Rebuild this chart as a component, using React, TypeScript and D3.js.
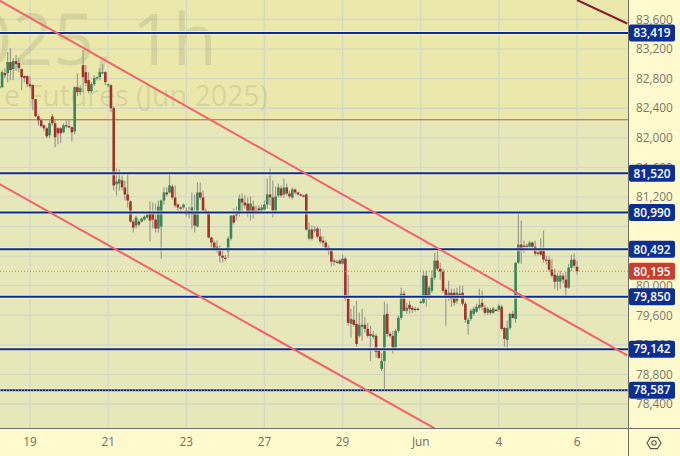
import React from "react";
import * as d3 from "d3";

const opens = [82671,82685,82875,82875,83024,82929,83037,83010,82929,82834,82834,82725,82712,82522,82291,82237,82169,82129,82034,82291,82196,82129,82129,82075,82169,82156,82142,82088,82685,82617,82983,82888,82780,82631,82725,82807,82820,82875,82888,82712,82712,82400,81370,81383,81424,81329,81234,81139,80867,80813,80867,80867,80894,80922,80976,80990,80894,80773,80800,81152,81261,81261,81342,81193,81098,81058,81058,81017,81003,80963,80990,80800,81261,81193,81017,80990,80651,80583,80528,80501,80406,80379,80460,80637,80949,80949,80976,81179,81125,81111,80990,81071,81017,81044,81017,81030,81098,81234,81193,81017,81220,81315,81234,81329,81247,81193,81301,81261,81234,81220,81234,80637,80759,80746,80773,80664,80610,80583,80515,80488,80339,80325,80339,80298,80366,79823,79484,79539,79484,79322,79444,79471,79417,79349,79308,79322,79132,78875,78983,79620,79349,79322,79159,79390,79566,79891,79661,79742,79701,79688,79688,79769,79769,80135,79837,79932,80108,80339,80230,80190,79946,79837,79905,79905,79796,79891,79905,79756,79484,79552,79620,79647,79701,79769,79701,79634,79674,79634,79674,79674,79715,79430,79267,79430,79620,79552,80312,80556,80542,80542,80528,80583,80528,80447,80501,80474,80352,80352,80217,80149,80054,80054,80135,80081,79973,80244,80352,80257];
const closes = [82698,82888,82847,83024,82915,83037,82997,82942,82820,82807,82725,82698,82522,82291,82237,82156,82129,82020,82196,82196,82007,82061,82061,82169,82156,82142,82075,82685,82617,82671,82820,82739,82631,82725,82807,82820,82888,82888,82753,82725,82400,81356,81410,81437,81329,81234,81152,80867,80786,80922,80827,80908,80935,80963,80881,80894,80773,81071,81152,81261,81234,81356,81193,81085,81058,81044,81098,80963,80963,81058,80813,81261,81193,81017,80990,80651,80583,80501,80488,80406,80379,80366,80637,80949,80854,80990,81179,81125,81085,80990,81111,80990,80990,81017,81058,81098,81234,81193,81017,81207,81329,81220,81329,81247,81207,81301,81261,81234,81220,81207,80759,80759,80637,80759,80664,80597,80583,80515,80474,80325,80325,80312,80298,80366,79823,79498,79552,79471,79213,79471,79471,79417,79322,79322,79335,79105,79024,78983,79607,79349,79322,79159,79390,79566,79891,79661,79701,79688,79674,79674,79674,79783,80135,79837,79973,80108,80339,80230,80190,79932,79837,79905,79823,79769,79905,79878,79756,79539,79539,79661,79688,79715,79742,79715,79634,79688,79634,79688,79661,79729,79417,79281,79430,79620,79566,80312,80556,80474,80528,80528,80583,80528,80434,80434,80420,80352,80339,80217,80135,80054,80135,80135,80081,79973,80244,80352,80271,80195];
const highs = [82712,82915,82942,83159,83214,83078,83119,83078,82942,82847,82847,82834,82725,82522,82319,82264,82183,82142,82237,82319,82237,82142,82142,82196,82237,82237,82156,82698,82875,82712,83186,82983,82888,82753,82847,82834,82942,82997,82902,82739,82725,82427,81586,81573,81491,81424,81532,81152,80894,80949,80894,80922,80949,80976,81139,81125,81111,81152,81166,81329,81329,81518,81370,81356,81111,81071,81111,81058,81071,81261,81234,81396,81396,81288,81044,81017,80664,80610,80610,80542,80474,80420,80664,80949,81044,81071,81234,81247,81220,81193,81207,81152,81085,81085,81098,81152,81451,81586,81424,81342,81383,81356,81451,81383,81288,81329,81315,81274,81247,81234,81247,80854,80813,80800,80800,80773,80664,80610,80542,80501,80366,80352,80366,80420,80393,80149,79688,79729,79796,79634,79688,79580,79498,79458,79390,79349,79159,79091,79783,79756,79376,79390,79417,79593,79973,79932,79769,79796,79729,79715,79701,79810,80203,80203,80000,80203,80447,80501,80312,80230,79973,80068,79959,79959,79973,80000,80000,79783,79566,79688,79715,79756,79959,79932,79742,79715,79701,79715,79688,79756,79742,79444,79525,79634,79661,80312,80976,80881,80610,80569,80610,80597,80610,80474,80637,80746,80406,80406,80366,80230,80176,80203,80176,80190,80298,80420,80434,80339];
const lows = [82658,82671,82807,82753,82780,82780,82902,82888,82644,82753,82685,82671,82373,82278,82169,82142,82088,81993,81993,82169,81871,81912,81925,82061,82129,82129,81952,82047,82563,82576,82617,82698,82603,82603,82698,82780,82780,82861,82712,82685,82346,81288,81220,81288,81288,81152,81058,80854,80718,80773,80800,80854,80881,80908,80597,80773,80718,80718,80366,81098,81207,81247,81166,81058,80990,80976,81030,80935,80908,80773,80718,80786,81166,80990,80963,80637,80515,80474,80447,80312,80312,80339,80379,80610,80827,80881,80935,80990,81044,80935,80881,80908,80963,80990,81003,81003,81044,81085,80922,80990,81193,81193,81193,81220,81179,81166,81234,81220,81207,81193,80746,80610,80610,80718,80637,80569,80528,80474,80420,80258,80271,80298,80285,80285,79796,79458,79295,79444,79173,79295,79254,79363,79295,78983,79281,79024,79010,78847,78589,79308,79295,79078,79132,79363,79539,79647,79620,79620,79634,79647,79661,79756,79756,79715,79810,79905,80081,80203,80081,79905,79458,79796,79715,79729,79756,79851,79729,79498,79335,79525,79593,79634,79674,79674,79607,79607,79607,79620,79647,79647,79390,79173,79132,79403,79552,79498,80298,80298,80447,80501,80501,80501,80406,80406,80406,80312,80285,80190,80108,79959,79932,79959,80027,79851,79959,80203,80244,80149];

const levels = [83419, 81520, 80990, 80492, 79850, 79142, 78587];
const priceTicks = [83600, 83200, 82800, 82400, 82000, 81600, 81200, 80000, 79600, 79200, 78800, 78400];
const priceGrid = d3.range(78400, 83601, 400);
const dateTickIndex = [11, 39, 67, 95, 123, 151, 179, 207];
const dateTickLabel = ["19", "21", "23", "27", "29", "Jun", "4", "6"];
const lastPrice = 80195;
const zonePrice = 82244;
// trend lines: [bar index, price] pairs
const channelUpper = [[0, 83858], [225, 79057]];
const channelLower = [[0, 81375], [156, 78070]];
const farLine = [[207, 83864], [225, 83546]];

const W = 680, H = 456, plotR = 628, plotB = 428;
const x = d3.scaleLinear().domain([11, 207]).range([30, 577]);
const y = d3.scaleLinear().domain([78400, 83600]).range([404, 19.5]);
const fmt = d3.format(",");
const FONT = "'Open Sans', 'Liberation Sans', sans-serif";
const UP = "#3a8559", DOWN = "#a23228", WICK = "#9b9b92";
const lineGen = d3.line<number[]>().x((d) => x(d[0])).y((d) => y(d[1]));
const hexPts: [number, number][] = d3.range(6).map((k) => {
  const a = (Math.PI / 3) * k;
  return [654 + 7 * Math.cos(a), 443 + 6.5 * Math.sin(a)];
});

export default function App() {
  return (
    <svg width={W} height={H} style={{ position: "absolute", left: 0, top: 0 }} fontFamily={FONT}>
      <defs>
        <clipPath id="plot"><rect x={0} y={0} width={plotR} height={plotB} /></clipPath>
      </defs>
      <rect width={W} height={H} fill="#fffacd" />
      <g clipPath="url(#plot)">
        <rect x={0} y={0} width={plotR} height={y(zonePrice)} fill="#eae8ab" />
        <rect x={0} y={y(zonePrice)} width={plotR} height={plotB - y(zonePrice)} fill="#e6e8b9" />
        {priceGrid.map((p) => (
          <line key={p} x1={0} x2={plotR} y1={y(p)} y2={y(p)} stroke="#d5d8c6" strokeWidth={1.3} />
        ))}
        {dateTickIndex.map((i) => (
          <line key={i} x1={x(i)} x2={x(i)} y1={0} y2={plotB} stroke="#d5d8c6" strokeWidth={1.3} />
        ))}
        <text x={217} y={65} textAnchor="end" fontSize={72} fill="#6e6e5a" fillOpacity={0.17}>2025, 1h</text>
        <text x={268} y={106} textAnchor="end" fontSize={28.5} fill="#6e6e5a" fillOpacity={0.17}>e Futures (Jun 2025)</text>
        <line x1={0} x2={plotR} y1={y(zonePrice)} y2={y(zonePrice)} stroke="#bb5a3c" strokeWidth={1} />
        {opens.map((o, i) => (
          <line key={i} x1={x(i)} x2={x(i)} y1={y(highs[i])} y2={y(lows[i])} stroke={WICK} strokeWidth={1.2} />
        ))}
        {opens.map((o, i) => {
          const c = closes[i];
          const top = y(Math.max(o, c));
          const h = Math.max(1.2, Math.abs(y(o) - y(c)));
          return <rect key={i} x={x(i) - 1.3} y={top} width={2.6} height={h} fill={c >= o ? UP : DOWN} />;
        })}
        {levels.map((p) => (
          <g key={p}>
            <line x1={0} x2={plotR} y1={y(p)} y2={y(p)} stroke="#fffbd0" strokeOpacity={0.7} strokeWidth={3.8} />
            <line x1={0} x2={plotR} y1={y(p)} y2={y(p)} stroke="#0c2b8c" strokeWidth={2} />
          </g>
        ))}
        <line x1={0} x2={plotR} y1={y(78587)} y2={y(78587)} stroke="#e6e8b9" strokeWidth={0.7} strokeDasharray="1,2" />
        <line x1={0} x2={plotR} y1={y(lastPrice)} y2={y(lastPrice)} stroke="#dd7a50" strokeWidth={1} strokeDasharray="1,2" />
        <path d={lineGen(channelUpper) ?? ""} stroke="#f2626c" strokeWidth={2} fill="none" />
        <path d={lineGen(channelLower) ?? ""} stroke="#f2626c" strokeWidth={2} fill="none" />
        <path d={lineGen(farLine) ?? ""} stroke="#8a1c2c" strokeWidth={2} fill="none" />
      </g>
      <line x1={plotR + 0.5} x2={plotR + 0.5} y1={0} y2={H} stroke="#6f6f68" />
      <line x1={0} x2={W} y1={plotB + 0.5} y2={plotB + 0.5} stroke="#6f6f68" />
      {priceTicks.map((p) => (
        <text key={p} x={636} y={y(p)} dy="0.36em" fontSize={11.8} fill="#77776c">{fmt(p)}</text>
      ))}
      {levels.map((p) => (
        <g key={p}>
          <rect x={629} y={y(p) - 8.5} width={46} height={17} rx={2} fill="#0c2f96" />
          <text x={652} y={y(p)} dy="0.36em" textAnchor="middle" fontSize={11.8} fontWeight={600} fill="#ffffff">{fmt(p)}</text>
        </g>
      ))}
      <rect x={629} y={y(lastPrice) - 8.5} width={46} height={17} rx={2} fill="#c93f2f" />
      <text x={652} y={y(lastPrice)} dy="0.36em" textAnchor="middle" fontSize={11.8} fontWeight={600} fill="#ffffff">{fmt(lastPrice)}</text>
      {dateTickIndex.map((i, k) => (
        <text key={i} x={x(i)} y={442} dy="0.36em" textAnchor="middle" fontSize={11.8} fill="#6e6e62">{dateTickLabel[k]}</text>
      ))}
      <path d={"M" + hexPts.join("L") + "Z"} fill="none" stroke="#55554c" strokeWidth={1.1} />
      <circle cx={654} cy={443} r={2.2} fill="none" stroke="#55554c" strokeWidth={1.1} />
    </svg>
  );
}
